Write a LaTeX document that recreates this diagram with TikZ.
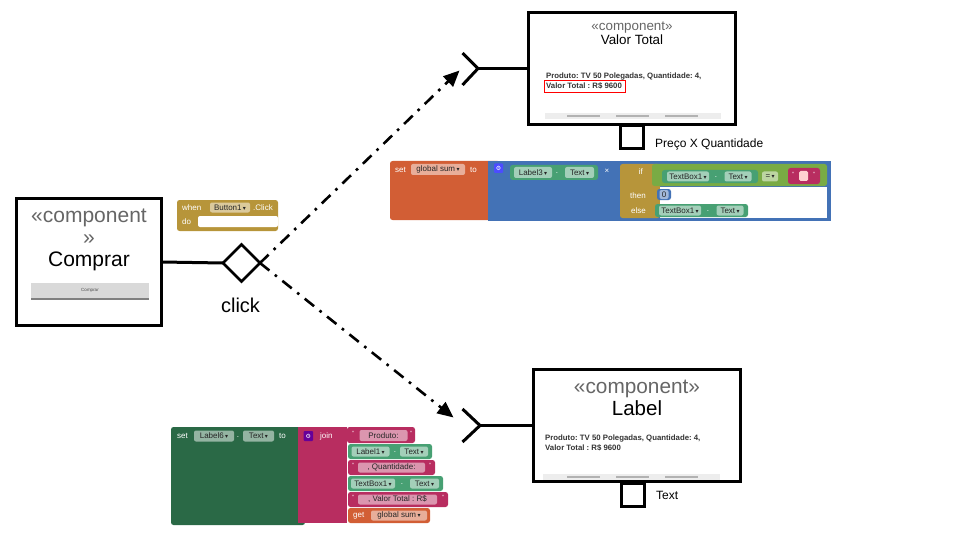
\documentclass[tikz,border=0pt]{standalone}
\usepackage{fontspec}
\setmainfont{Liberation Sans}
\newfontfamily\djv{DejaVu Sans}
\usetikzlibrary{shapes.geometric,arrows.meta}
\definecolor{gold}{HTML}{B7953A}
\definecolor{varor}{HTML}{D25E35}
\definecolor{mathb}{HTML}{4372B6}
\definecolor{logicg}{HTML}{79AB44}
\definecolor{textm}{HTML}{B82D60}
\definecolor{setg}{HTML}{2A6946}
\definecolor{getg}{HTML}{47A073}
\definecolor{stereo}{HTML}{666666}
\definecolor{inner}{HTML}{333333}
\newcommand{\dd}{\,{\djv\fontsize{6}{6}\selectfont ▾}}
\frenchspacing
\begin{document}
\begin{tikzpicture}[x=1pt,y=-1pt,
  comp/.style={draw, line width=3pt, fill=white, inner sep=0pt, outer sep=0pt},
  conn/.style={line width=3pt},
  dashconn/.style={line width=2.6pt, dash pattern=on 12pt off 7pt on 2.6pt off 7pt, -{Triangle[length=16pt,width=14pt]}},
  stereotxt/.style={text=stereo, inner sep=0pt, anchor=base},
  nametxt/.style={text=black, inner sep=0pt, anchor=base},
  innertxt/.style={text=inner, inner sep=0pt, anchor=base west, font=\fontsize{7.8}{9}\selectfont\bfseries},
  portbox/.style={draw, line width=3pt, fill=white, minimum size=23pt, inner sep=0pt},
  wt/.style={text=white, inner sep=0pt, font=\fontsize{8}{9}\selectfont},
  pill/.style={fill=white, fill opacity=.5, text opacity=1, text=black!85, rounded corners=2pt, inner sep=0pt, font=\fontsize{8}{9}\selectfont},
  blk/.style={rounded corners=2.5pt}
]
\useasboundingbox (0,0) rectangle (960,540);

% ---------------- Comprar component ----------------
\node[comp, minimum width=145pt, minimum height=127pt] (comprar) at (89,262) {};
\node[stereotxt, font=\fontsize{21}{24}\selectfont] (comprarS1) at (89,222) {«component};
\node[stereotxt, font=\fontsize{21}{24}\selectfont] (comprarS2) at (89,244) {»};
\node[nametxt, font=\fontsize{21}{24}\selectfont] (comprarN) at (89,266.5) {Comprar};
\fill[black!15] (31,283) rectangle (149,300);
\fill[black!50] (31,298) rectangle (149,300);
\node[text=black!70, inner sep=0pt, font=\fontsize{4.5}{5}\selectfont] (comprarBtn) at (90,290) {Comprar};

% ---------------- click diamond ----------------
\node[diamond, draw, line width=2.6pt, aspect=1, minimum width=37pt, minimum height=37pt, inner sep=0pt, outer sep=0pt, fill=white] (click) at (241.5,263) {};
\node[nametxt, font=\fontsize{20}{24}\selectfont] (clickL) at (240.5,312) {click};
\draw[conn] (comprar.east) -- (click.west);

% ---------------- Valor Total component ----------------
\node[comp, minimum width=207pt, minimum height=112pt] (valor) at (632,68.5) {};
\node[stereotxt, font=\fontsize{13.4}{15}\selectfont] (valorS) at (632,30.5) {«component»};
\node[nametxt, font=\fontsize{13.4}{15}\selectfont] (valorN) at (632,45) {Valor Total};
\node[innertxt] (valorT1) at (546,78.5) {Produto: TV 50 Polegadas, Quantidade: 4,};
\node[innertxt] (valorT2) at (546,89) {Valor Total : R\$ 9600};
\draw[red, line width=1pt] (544.5,81) rectangle (625.5,92.5);
\fill[black!7] (545,113) rectangle (721,119);
\foreach \a in {567,616,665} {\draw[black!30, line width=1.2pt] (\a,116) -- ++(33,0);}
\node[portbox] (valorPort) at (632,137.5) {};
\node[inner sep=0pt, anchor=base west, font=\fontsize{12}{14}\selectfont] (valorPortL) at (655,148) {Preço X Quantidade};

% socket (required interface) for Valor Total
\coordinate (sockA) at (478,68.5);
\draw[conn] (462.5,53) -- (sockA) -- (462.5,85);
\draw[conn] (sockA) -- (valor.west);

% ---------------- Label component ----------------
\node[comp, minimum width=207pt, minimum height=112pt] (label) at (637,425.5) {};
\node[stereotxt, font=\fontsize{20.8}{24}\selectfont] (labelS) at (637,393) {«component»};
\node[nametxt, font=\fontsize{20.5}{24}\selectfont] (labelN) at (637,415) {Label};
\node[innertxt] (labelT1) at (545,440) {Produto: TV 50 Polegadas, Quantidade: 4,};
\node[innertxt] (labelT2) at (545,450.5) {Valor Total : R\$ 9600};
\fill[black!7] (543,474) rectangle (720,480);
\foreach \a in {567,616,665} {\draw[black!30, line width=1.2pt] (\a,477) -- ++(33,0);}
\node[portbox] (labelPort) at (632.5,494.5) {};
\node[inner sep=0pt, anchor=base west, font=\fontsize{12}{14}\selectfont] (labelPortL) at (656,499) {Text};

\coordinate (sockB) at (480,425.5);
\draw[conn] (462.5,409) -- (sockB) -- (462.5,442);
\draw[conn] (sockB) -- (label.west);

% ---------------- dependency arrows ----------------
\coordinate (tipA) at (459.5,70.5);
\coordinate (tipB) at (453.5,417.5);
\draw[dashconn] (click.east) -- (tipA);
\draw[dashconn] (click.east) -- (tipB);

% ---------------- when Button1.Click block ----------------
\fill[gold, blk] (177,200) rectangle (278,231);
\fill[white, rounded corners=2pt] (198,216) rectangle (278,227);
\node[wt, anchor=west] (whenW) at (182,207.5) {when};
\node[pill, minimum width=40pt, minimum height=10pt] (whenB) at (230,207.5) {Button1\dd};
\node[wt, anchor=west] (whenC) at (253,207.5) {.Click};
\node[wt, anchor=west] (whenD) at (182,221.5) {do};

% ---------------- set global sum block ----------------
\fill[varor, blk] (390,161) rectangle (500,220);
\fill[mathb] (488,161) rectangle (831,221);
\node[wt, anchor=west] (sgSet) at (395,169.5) {set};
\node[pill, minimum width=54pt, minimum height=11pt] (sgVar) at (438,169.5) {global sum\dd};
\node[wt, anchor=west] (sgTo) at (470,169.5) {to};
\fill[blue!70!white, rounded corners=1pt] (494,163.5) rectangle (503,173);
\node[text=white, inner sep=0pt, font=\djv\fontsize{6}{6}\selectfont] (sgGear) at (498.5,168.3) {⚙};
% Label3.Text
\fill[getg, blk] (510,165) rectangle (598,180);
\node[pill, minimum width=38pt, minimum height=11pt] (sgL3) at (533,172.5) {Label3\dd};
\node[wt] (sgDot) at (557,173) {.};
\node[pill, minimum width=29pt, minimum height=11pt] (sgT3) at (579.5,172.5) {Text\dd};
\node[wt] (sgTimes) at (607,171.5) {×};
% if block
\fill[gold, blk] (620,164) rectangle (660,218);
\fill[white] (660,187) rectangle (827,218);
\fill[logicg, blk] (652,164) rectangle (827,186);
\fill[getg, blk] (662,170) rectangle (758,183);
\node[pill, minimum width=42pt, minimum height=10pt] (ifTB) at (688,176.5) {TextBox1\dd};
\node[wt] (ifDot) at (716,177) {.};
\node[pill, minimum width=27pt, minimum height=10pt] (ifT) at (738,176.5) {Text\dd};
\node[pill, minimum width=16pt, minimum height=10pt] (ifEq) at (770,176.5) {=\dd};
\fill[textm, blk] (788,168) rectangle (820,184);
\node[wt, font=\fontsize{6}{6}\selectfont] (ifQ1) at (793,174) {"};
\fill[pink!70!white, rounded corners=1.5pt] (799,171) rectangle (808,181);
\node[wt, font=\fontsize{6}{6}\selectfont] (ifQ2) at (814,174) {"};
\node[wt, anchor=east] (ifIf) at (643,172) {if};
\node[wt, anchor=east] (ifThen) at (646,195.5) {then};
\node[wt, anchor=east] (ifElse) at (646,210.5) {else};
\fill[mathb, blk] (657,189) rectangle (671,200);
\node[pill, minimum width=9pt, minimum height=9pt] (ifZero) at (664,194.5) {0};
\fill[getg, blk] (655,204) rectangle (748,217);
\node[pill, minimum width=42pt, minimum height=10pt] (elTB) at (680,210.5) {TextBox1\dd};
\node[wt] (elDot) at (708,211) {.};
\node[pill, minimum width=27pt, minimum height=10pt] (elT) at (730,210.5) {Text\dd};

% ---------------- set Label6.Text block ----------------
\fill[setg, blk] (171,427) rectangle (305,525);
\fill[textm] (298,427) rectangle (347,523);
\node[wt, anchor=west] (slSet) at (177,436) {set};
\node[pill, minimum width=40pt, minimum height=11pt] (slL6) at (214,436) {Label6\dd};
\node[wt] (slDot) at (238,437) {.};
\node[pill, minimum width=31pt, minimum height=11pt] (slT) at (258.5,436) {Text\dd};
\node[wt, anchor=west] (slTo) at (279,436) {to};
\fill[violet!80!blue, rounded corners=1pt] (303.5,431) rectangle (313,441);
\node[text=white, inner sep=0pt, font=\djv\fontsize{6}{6}\selectfont] (slGear) at (308.3,436) {⚙};
\node[wt, anchor=west] (slJoin) at (320,436) {join};
% items
\fill[textm, blk] (347,427) rectangle (415,443);
\node[wt, font=\fontsize{6}{6}\selectfont] (i1q1) at (353,433) {"};
\node[pill, minimum width=48pt, minimum height=11pt] (i1) at (383.5,435.5) {Produto:};
\node[wt, font=\fontsize{6}{6}\selectfont] (i1q2) at (411,433) {"};
\fill[getg, blk] (348,444) rectangle (432,459);
\node[pill, minimum width=38pt, minimum height=10pt] (i2a) at (370.5,451.5) {Label1\dd};
\node[wt] (i2d) at (395,452) {.};
\node[pill, minimum width=28pt, minimum height=10pt] (i2b) at (414,451.5) {Text\dd};
\fill[textm, blk] (348,460) rectangle (435,475);
\node[wt, font=\fontsize{6}{6}\selectfont] (i3q1) at (353,465) {"};
\node[pill, minimum width=67pt, minimum height=10pt] (i3) at (391.5,467.5) {, Quantidade:};
\node[wt, font=\fontsize{6}{6}\selectfont] (i3q2) at (430,465) {"};
\fill[getg, blk] (348,476) rectangle (443,491);
\node[pill, minimum width=44pt, minimum height=10pt] (i4a) at (373,483.5) {TextBox1\dd};
\node[wt] (i4d) at (402,484) {.};
\node[pill, minimum width=29pt, minimum height=10pt] (i4b) at (424.5,483.5) {Text\dd};
\fill[textm, blk] (348,492) rectangle (448,507);
\node[wt, font=\fontsize{6}{6}\selectfont] (i5q1) at (353,497) {"};
\node[pill, minimum width=79pt, minimum height=10pt] (i5) at (397.5,499.5) {, Valor Total : R\$};
\node[wt, font=\fontsize{6}{6}\selectfont] (i5q2) at (443,497) {"};
\fill[varor, blk] (348,508) rectangle (430,523);
\node[wt, anchor=west] (i6g) at (353,515.5) {get};
\node[pill, minimum width=56pt, minimum height=10pt] (i6) at (399,515.5) {global sum\dd};
\end{tikzpicture}
\end{document}
